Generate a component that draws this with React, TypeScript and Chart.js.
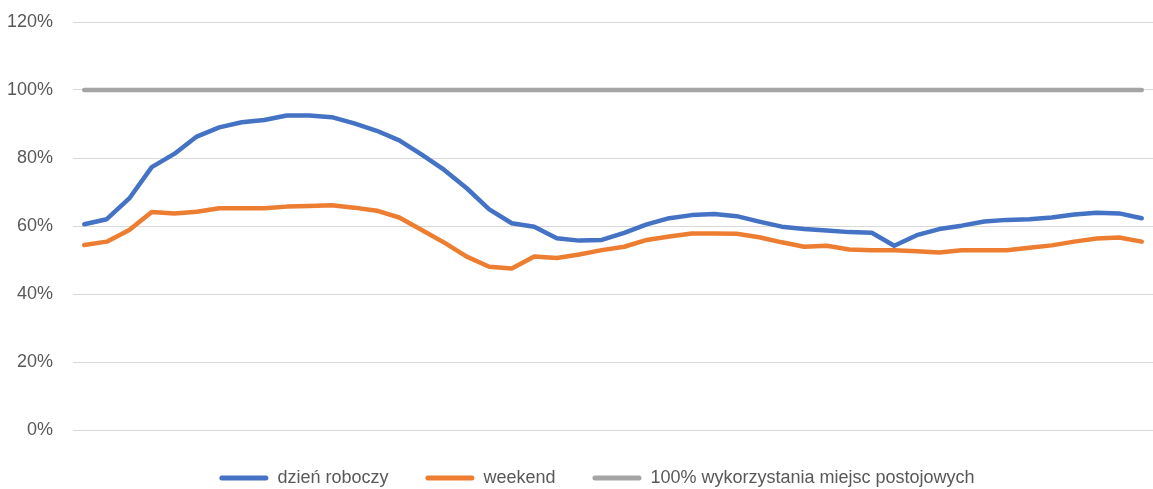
import React, { useEffect, useRef } from "react";
import { Chart, registerables } from "chart.js";

Chart.register(...registerables);

const slots: string[] = Array.from({ length: 48 }, (_, i) => String(i + 1));

const workday: number[] = [
  60.5, 62.0, 68.1, 77.3, 81.2, 86.3, 89.0, 90.5, 91.2, 92.5, 92.5, 92.0,
  90.2, 88.0, 85.2, 81.0, 76.5, 71.1, 64.9, 60.8, 59.8, 56.4, 55.7, 55.9,
  58.0, 60.5, 62.3, 63.2, 63.5, 62.9, 61.3, 59.8, 59.1, 58.7, 58.2, 58.0,
  54.2, 57.3, 59.1, 60.1, 61.3, 61.8, 62.0, 62.5, 63.4, 63.9, 63.7, 62.3,
];

const weekend: number[] = [
  54.4, 55.4, 58.8, 64.1, 63.7, 64.2, 65.2, 65.2, 65.2, 65.7, 65.9, 66.1,
  65.4, 64.5, 62.5, 58.8, 55.1, 51.0, 48.0, 47.5, 51.0, 50.6, 51.6, 52.9,
  53.9, 55.9, 56.9, 57.8, 57.8, 57.7, 56.7, 55.2, 53.9, 54.2, 53.1, 52.9,
  52.9, 52.6, 52.2, 52.9, 52.9, 52.9, 53.6, 54.3, 55.4, 56.3, 56.6, 55.4,
];

const fullCapacity: number[] = slots.map(() => 100);

const seriesNames: string[] = [
  "dzień roboczy",
  "weekend",
  "100% wykorzystania miejsc postojowych",
];

const yTicks = { min: 0, max: 120, step: 20 };

const legendShift = {
  id: "legendShift",
  afterLayout(chart: any) {
    if (chart.legend) {
      chart.legend.left = 41;
    }
  },
};

export default function App() {
  const canvasRef = useRef<HTMLCanvasElement | null>(null);

  useEffect(() => {
    if (!canvasRef.current) return;
    const font = { family: "'Liberation Sans', Arial, sans-serif", size: 18 };
    const mk = (label: string, data: number[], color: string) => ({
      label,
      data,
      borderColor: color,
      backgroundColor: color,
      borderWidth: 4.5,
      pointRadius: 0,
      pointHoverRadius: 0,
      tension: 0,
      borderCapStyle: "round" as const,
      borderJoinStyle: "round" as const,
      fill: false,
    });
    const chart = new Chart(canvasRef.current, {
      type: "line",
      plugins: [legendShift],
      data: {
        labels: slots,
        datasets: [
          mk(seriesNames[0], workday, "#4472C4"),
          mk(seriesNames[1], weekend, "#ED7D31"),
          mk(seriesNames[2], fullCapacity, "#A5A5A5"),
        ],
      },
      options: {
        animation: false,
        responsive: true,
        maintainAspectRatio: false,
        layout: { padding: { left: 0, right: 0, top: 22, bottom: 0 } },
        plugins: {
          tooltip: { enabled: false },
          legend: {
            position: "bottom",
            align: "center",
            maxHeight: 57,
            labels: {
              font,
              color: "#595959",
              boxWidth: 49,
              boxHeight: 5,
              padding: 37,
              useBorderRadius: true,
              borderRadius: 2.5,
              generateLabels: (ch: any) => {
                const items = Chart.defaults.plugins.legend.labels.generateLabels(ch);
                return items.map((it: any) => ({
                  ...it,
                  lineWidth: 0,
                  strokeStyle: "rgba(0,0,0,0)",
                  fillStyle: it.strokeStyle,
                }));
              },
            },
          },
        },
        scales: {
          x: {
            type: "category",
            offset: true,
            grid: { display: false },
            border: { display: false },
            ticks: { display: false },
            afterFit: (s: any) => {
              s.height = 2;
            },
          },
          y: {
            min: yTicks.min,
            max: yTicks.max,
            grid: { color: "#D9D9D9", lineWidth: 1, drawTicks: false },
            border: { display: false },
            ticks: {
              stepSize: yTicks.step,
              padding: 20,
              color: "#595959",
              font,
              callback: (v: any) => `${v}%`,
            },
            afterFit: (s: any) => {
              s.width = 73;
              s.paddingTop = 0;
              s.paddingBottom = 0;
            },
          },
        },
      },
    });
    return () => chart.destroy();
  }, []);

  return (
    <div
      style={{
        position: "fixed",
        left: 0,
        top: 0,
        width: "1153px",
        height: "489px",
        background: "#fff",
      }}
    >
      <canvas ref={canvasRef} />
    </div>
  );
}
